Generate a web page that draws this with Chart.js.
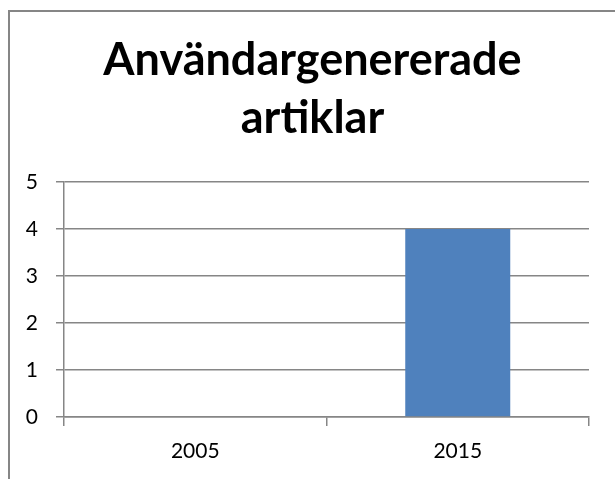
<!DOCTYPE html>
<html>
<head>
<meta charset="utf-8">
<script src="https://cdn.jsdelivr.net/npm/chart.js@4/dist/chart.umd.min.js"></script>
<style>
  html, body { margin: 0; padding: 0; background: #fff; overflow: hidden; }
  #frame { position: absolute; left: 8px; top: 10px; width: 700px; height: 600px; border: 2px solid #868686; box-sizing: border-box; }
  #wrap { position: absolute; left: 0; top: 0; width: 615px; height: 479px; }
</style>
</head>
<body>
<div id="frame"></div>
<div id="wrap"><canvas id="c" width="615" height="479"></canvas></div>
<script>
const titleLines = ['Användargenererade', 'artiklar'];
const categories = ['2005', '2015'];
const values = [0, 4];
const yTicks = [0, 1, 2, 3, 4, 5];

const gridColor = '#868686';
const shiftTitle = {
  id: 'shiftTitle',
  afterLayout(chart) {
    const t = chart.titleBlock;
    if (t) { t.left = 36; t.width = t.right - t.left; }
  }
};
new Chart(document.getElementById('c'), {
  type: 'bar',
  data: {
    labels: categories,
    datasets: [{
      data: values,
      backgroundColor: '#4F81BD',
      borderWidth: 0,
      categoryPercentage: 1,
      barPercentage: 0.4
    }]
  },
  plugins: [shiftTitle],
  options: {
    responsive: false,
    animation: false,
    events: [],
    layout: { padding: { left: 0, right: 26, top: 0, bottom: 0 } },
    plugins: {
      legend: { display: false },
      tooltip: { enabled: false },
      title: {
        display: true,
        text: titleLines,
        color: '#000',
        font: { family: 'Lato', weight: 'bold', size: 45, lineHeight: '58px' },
        padding: { top: 31, bottom: 35 }
      }
    },
    scales: {
      x: {
        offset: true,
        grid: { display: true, drawOnChartArea: false, drawTicks: true, tickLength: 9, color: gridColor, lineWidth: 1.5, offset: true },
        border: { display: true, color: gridColor, width: 1.5 },
        ticks: { color: '#000', font: { family: 'Lato', size: 21 }, padding: 13 },
        afterFit: (s) => { s.height = 62; }
      },
      y: {
        min: 0, max: 5,
        afterBuildTicks: (s) => { s.ticks = yTicks.map(v => ({ value: v })); },
        grid: { color: gridColor, lineWidth: 1.5, tickLength: 8 },
        border: { display: true, color: gridColor, width: 1.5 },
        ticks: { color: '#000', font: { family: 'Lato', size: 21 }, padding: 18 },
        afterFit: (s) => { s.width = 64; }
      }
    }
  }
});
</script>
</body>
</html>
